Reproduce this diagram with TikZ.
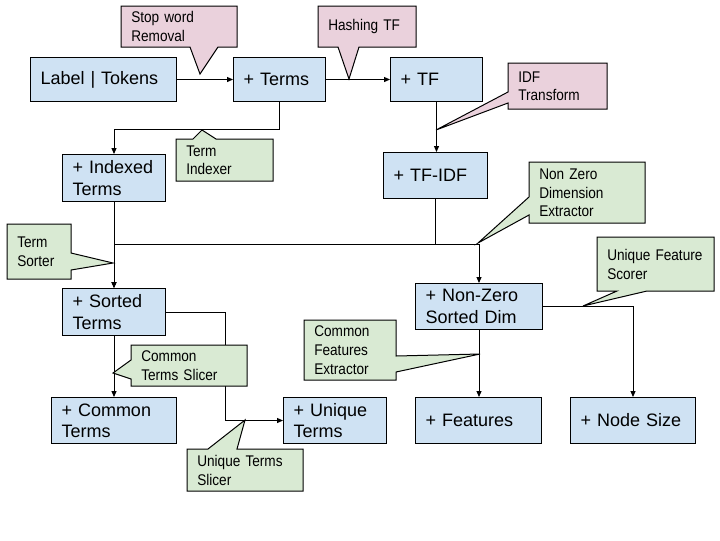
\documentclass[tikz,border=0pt]{standalone}
\usepackage{fontspec}
\setmainfont{Liberation Sans}
\newfontfamily\notefont[FakeStretch=0.88]{Liberation Sans}
\usepackage{xcolor}
\usetikzlibrary{arrows.meta, positioning, calc}

\definecolor{stageblue}{HTML}{CFE2F3}
\definecolor{notepink}{HTML}{EAD1DC}
\definecolor{notegreen}{HTML}{D9EAD3}

\begin{document}
\begin{tikzpicture}[
        x=0.75pt, y=-0.75pt,
        stage/.style={draw=black, fill=stageblue, line width=0.75pt, anchor=north west, align=left,
            inner xsep=7.5pt, inner ysep=0pt, font=\fontsize{13.5}{16}\selectfont},
        note/.style={anchor=north west, align=left, inner xsep=7.5pt, inner ysep=0pt,
            font=\notefont\fontsize{11.6}{14.2}\selectfont},
        pinkbody/.style={draw=black, fill=notepink, line width=0.75pt, line join=miter},
        greenbody/.style={draw=black, fill=notegreen, line width=0.75pt, line join=miter},
        arrow/.style={-{Triangle[length=4.5pt, width=3.8pt]}, line width=0.75pt}
    ]
        \useasboundingbox (0,0) rectangle (720,540);

        % pipeline stages
        \node[stage, text width=94.5pt, minimum height=33pt] (tok) at (30,57) {Label | Tokens};
        \node[stage, text width=54pt, minimum height=33pt] (trm) at (233,57) {+ Terms};
        \node[stage, text width=54pt, minimum height=33pt] (tf) at (390,57) {+ TF};
        \node[stage, text width=62.25pt, minimum height=35.25pt] (idx) at (62,154) {+ Indexed\\Terms};
        \node[stage, text width=63pt, minimum height=34.5pt] (tfidf) at (383,152) {+ TF-IDF};
        \node[stage, text width=62.25pt, minimum height=35.25pt] (srt) at (62,288) {+ Sorted\\Terms};
        \node[stage, text width=80.25pt, minimum height=34.5pt] (nzd) at (415,283) {+ Non-Zero\\Sorted Dim};
        \node[stage, text width=78.75pt, minimum height=34.5pt] (cmn) at (51,397) {+ Common\\Terms};
        \node[stage, text width=62.25pt, minimum height=34.5pt] (unq) at (283,397) {+ Unique\\Terms};
        \node[stage, text width=79.5pt, minimum height=34.5pt] (feat) at (415,397) {+ Features};
        \node[stage, text width=78.75pt, minimum height=34.5pt] (nsz) at (570,397) {+ Node Size};

        % connectors
        \draw[arrow] (tok) -- (trm);
        \draw[arrow] (trm) -- (tf);
        \draw[arrow] (trm.south) -- ++(0,27) -| (idx.north);
        \draw[arrow] (tf.south) -- (tf.south |- tfidf.north);
        \draw[arrow] (idx) -- (srt);
        \draw[arrow] (tfidf.south) -- ++(0,45) -| (srt.north);
        \draw[arrow] (tfidf.south) -- ++(0,45) -| (nzd.north);
        \draw[arrow] (srt) -- (cmn);
        \draw[arrow] (srt.east) -- ++(59,0) |- (unq.west);
        \draw[arrow] (nzd.south) -- (nzd.south |- feat.north);
        \draw[arrow] (nzd.east) -| (nsz.north);

        % transformer callouts
        \draw[pinkbody] (121,6) -- (237,6) -- (237,47) -- (218,47) -- (200,74) -- (190,47) -- (121,47) -- cycle;
        \node[note, text width=72pt, minimum height=30.75pt] (stopw) at (121,6) {Stop word\\Removal};
        \draw[pinkbody] (318,6) -- (416,6) -- (416,47) -- (359,47) -- (349,79) -- (338,47) -- (318,47) -- cycle;
        \node[note, text width=58.5pt, minimum height=30.75pt] (hashtf) at (318,6) {Hashing TF};
        \draw[pinkbody] (508,63) -- (607,63) -- (607,109) -- (508,109) -- (508,103) -- (436,130) -- (508,92) -- cycle;
        \node[note, text width=59.25pt, minimum height=34.5pt] (idft) at (508,63) {IDF\\Transform};

        \draw[greenbody] (176,139) -- (193,139) -- (202,130) -- (216,139) -- (273,139) -- (273,181) -- (176,181) -- cycle;
        \node[note, text width=57.75pt, minimum height=31.5pt] (tidx) at (176,139) {Term\\Indexer};
        \draw[greenbody] (529,162) -- (645,162) -- (645,223) -- (529,223) -- (529,215) -- (478,243) -- (529,197) -- cycle;
        \node[note, text width=72pt, minimum height=45.75pt] (nzdx) at (529,162) {Non Zero\\Dimension\\Extractor};
        \draw[greenbody] (597,237) -- (714,237) -- (714,291) -- (647,291) -- (583,306) -- (617,291) -- (597,291) -- cycle;
        \node[note, text width=72.75pt, minimum height=40.5pt] (ufsc) at (597,237) {Unique Feature\\Scorer};
        \draw[greenbody] (7,224) -- (71,224) -- (71,253) -- (113,263) -- (71,270) -- (71,279) -- (7,279) -- cycle;
        \node[note, text width=33pt, minimum height=41.25pt] (tsrt) at (7,224) {Term\\Sorter};
        \draw[greenbody] (131,345) -- (247,345) -- (247,386) -- (131,386) -- (131,379) -- (113,373) -- (131,360) -- cycle;
        \node[note, text width=72pt, minimum height=30.75pt] (ctsl) at (131,345) {Common\\Terms Slicer};
        \draw[greenbody] (187,449) -- (208,449) -- (245,420) -- (237,449) -- (303,449) -- (303,491) -- (187,491) -- cycle;
        \node[note, text width=72pt, minimum height=31.5pt] (utsl) at (187,449) {Unique Terms\\Slicer};
        \draw[greenbody] (304,320) -- (396,320) -- (396,356) -- (480,354) -- (396,372) -- (396,380) -- (304,380) -- cycle;
        \node[note, text width=54pt, minimum height=45pt] (cfex) at (304,320) {Common\\Features\\Extractor};
    \end{tikzpicture}
\end{document}
